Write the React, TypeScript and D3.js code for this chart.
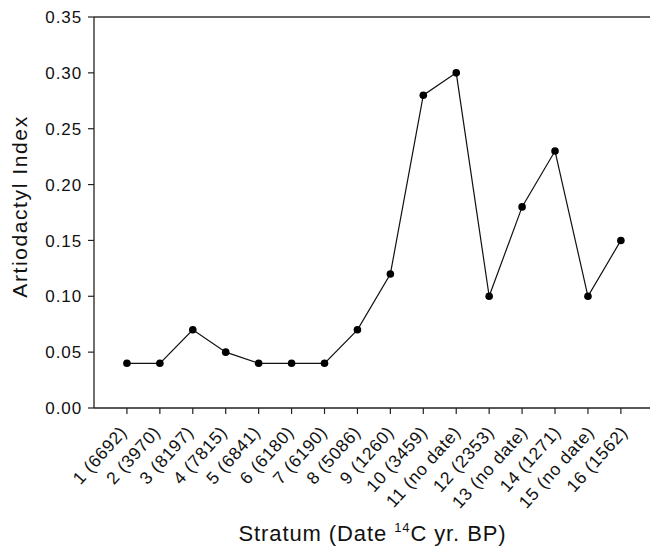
import React from "react";
import * as d3 from "d3";

const strata = ["1 (6692)", "2 (3970)", "3 (8197)", "4 (7815)", "5 (6841)", "6 (6180)", "7 (6190)", "8 (5086)", "9 (1260)", "10 (3459)", "11 (no date)", "12 (2353)", "13 (no date)", "14 (1271)", "15 (no date)", "16 (1562)"];
const index = [0.04, 0.04, 0.07, 0.05, 0.04, 0.04, 0.04, 0.07, 0.12, 0.28, 0.30, 0.10, 0.18, 0.23, 0.10, 0.15];
const yTicks = [0, 0.05, 0.1, 0.15, 0.2, 0.25, 0.3, 0.35];

const W = 650, H = 549;
const left = 94, top = 17, bottom = 408;
const step = 32.93;

export default function App() {
  const x = d3.scaleLinear().domain([0, 1]).range([left + step, left + 2 * step]);
  const xLabel = d3.scaleLinear().domain([0, 1]).range([left + step, left + 2 * step + 0.45]);
  const y = d3.scaleLinear().domain([0, 0.35]).range([bottom, top]);
  const line = d3.line<number>().x((_, i) => x(i)).y((d) => y(d));
  const font = "'Liberation Sans', Arial, sans-serif";
  return (
    <svg width={W} height={H} style={{ position: "absolute", left: 0, top: 0 }} fontFamily={font}>
      <rect width={W} height={H} fill="white" />
      <line x1={left} x2={W} y1={top} y2={top} stroke="#333" strokeWidth={1.3} />
      <line x1={left} x2={W} y1={bottom} y2={bottom} stroke="#222" strokeWidth={1.3} />
      <line x1={left} x2={left} y1={top} y2={bottom} stroke="#222" strokeWidth={1.3} />
      {yTicks.map((t) => (
        <g key={t}>
          <line x1={left - 6} x2={left} y1={y(t)} y2={y(t)} stroke="#222" strokeWidth={1.2} />
          <text x={82} y={y(t)} dy="0.36em" textAnchor="end" fontSize={17} letterSpacing={0.9} fill="#111">
            {t.toFixed(2)}
          </text>
        </g>
      ))}
      {strata.map((s, i) => (
        <g key={s}>
          <line x1={x(i)} x2={x(i)} y1={bottom} y2={bottom + 6} stroke="#222" strokeWidth={1.2} />
          <text
            transform={`translate(${xLabel(i) + 1},433) rotate(-48)`}
            textAnchor="end"
            fontSize={17.5}
            letterSpacing={0.7}
            fill="#111"
          >
            {s}
          </text>
        </g>
      ))}
      <path d={line(index) || ""} fill="none" stroke="#111" strokeWidth={1.2} />
      {index.map((v, i) => (
        <circle key={i} cx={x(i)} cy={y(v)} r={3.8} fill="#000" />
      ))}
      <text
        transform={`translate(27,206.5) rotate(-90)`}
        textAnchor="middle"
        fontSize={21}
        letterSpacing={1.6}
        fill="#111"
      >
        Artiodactyl Index
      </text>
      <text x={372.5} y={541} textAnchor="middle" fontSize={22} letterSpacing={0.9} fill="#111">
        Stratum (Date <tspan dy={-9} fontSize={13}>14</tspan>
        <tspan dy={9}>C yr. BP)</tspan>
      </text>
    </svg>
  );
}
